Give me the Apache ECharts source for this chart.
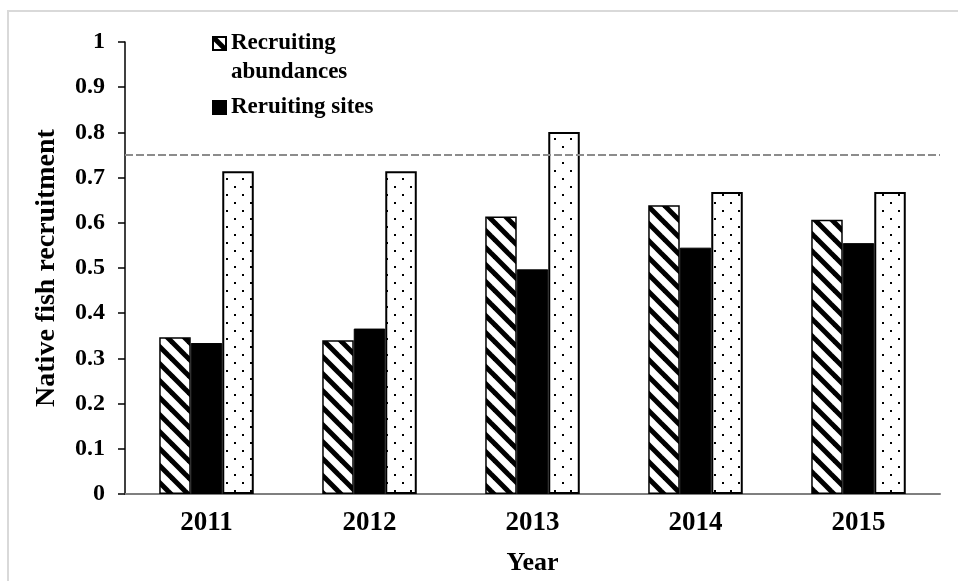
<!DOCTYPE html>
<html>
<head>
<meta charset="utf-8">
<script src="https://cdn.jsdelivr.net/npm/echarts@6/dist/echarts.min.js"></script>
<style>
  html, body { margin: 0; padding: 0; background: #fff; }
  #chart { width: 958px; height: 581px; }
</style>
</head>
<body>
<div id="chart"></div>
<script>
// data
var years = ['2011', '2012', '2013', '2014', '2015'];
var abundances = [0.347, 0.340, 0.614, 0.639, 0.607];
var sites = [0.334, 0.366, 0.497, 0.545, 0.555];
var third = [0.714, 0.714, 0.801, 0.668, 0.668];
var threshold = 0.75;

var FONT = 'Liberation Serif';

// diagonal hatch pattern
function hatchPattern() {
    var s = 17;
    var c = document.createElement('canvas');
    c.width = s; c.height = s;
    var ctx = c.getContext('2d');
    ctx.fillStyle = '#fff';
    ctx.fillRect(0, 0, s, s);
    ctx.strokeStyle = '#000';
    ctx.lineWidth = 5;
    [-s, 0, s].forEach(function (k) {
        ctx.beginPath();
        ctx.moveTo(-2, k - 2);
        ctx.lineTo(s + 2, s + k + 2);
        ctx.stroke();
    });
    return c;
}

// small dots pattern
function dotPattern() {
    var s = 16;
    var c = document.createElement('canvas');
    c.width = s; c.height = s;
    var ctx = c.getContext('2d');
    ctx.fillStyle = '#fff';
    ctx.fillRect(0, 0, s, s);
    ctx.fillStyle = '#000';
    ctx.fillRect(2, 2, 2, 2);
    ctx.fillRect(10, 10, 2, 2);
    return c;
}

var myChart = echarts.init(document.getElementById('chart'));

var legendText = { fontFamily: FONT, fontWeight: 'bold', fontSize: 23, color: '#000', lineHeight: 29 };

var option = {
    animation: false,
    backgroundColor: '#fff',
    textStyle: { fontFamily: FONT },
    graphic: [{
        type: 'rect',
        shape: { x: 8, y: 11, width: 1000, height: 700 },
        style: { fill: 'none', stroke: '#d9d9d9', lineWidth: 2 },
        silent: true
    }],
    legend: [{
        // empty first line keeps the icon level with "Recruiting"
        left: 212,
        top: 0,
        padding: 0,
        itemWidth: 13,
        itemHeight: 13,
        icon: 'rect',
        textStyle: legendText,
        formatter: function () { return ' \nRecruiting\nabundances'; },
        data: ['Recruiting abundances']
    }, {
        left: 212,
        top: 93,
        padding: 0,
        itemWidth: 13,
        itemHeight: 13,
        icon: 'rect',
        textStyle: legendText,
        data: ['Reruiting sites']
    }],
    grid: {
        left: 125,
        right: 18,
        top: 42,
        bottom: 86,
        containLabel: false
    },
    xAxis: {
        type: 'category',
        data: years,
        name: 'Year',
        nameLocation: 'middle',
        nameGap: 56,
        nameTextStyle: { fontFamily: FONT, fontWeight: 'bold', fontSize: 26, color: '#000' },
        axisLine: { lineStyle: { color: '#7f7f7f', width: 2 } },
        axisTick: { show: false },
        axisLabel: { fontFamily: FONT, fontWeight: 'bold', fontSize: 27, color: '#000', margin: 16 },
        splitLine: { show: false }
    },
    yAxis: {
        type: 'value',
        min: 0,
        max: 1,
        interval: 0.1,
        name: 'Native fish recruitment',
        nameLocation: 'middle',
        nameGap: 64,
        nameTextStyle: { fontFamily: FONT, fontWeight: 'bold', fontSize: 28, color: '#000' },
        axisLine: { show: true, lineStyle: { color: '#000', width: 1.5 } },
        axisTick: { show: true, inside: false, length: 7, lineStyle: { color: '#000', width: 1.5 } },
        axisLabel: { fontFamily: FONT, fontWeight: 'bold', fontSize: 24, color: '#000', margin: 20 },
        splitLine: { show: false }
    },
    series: [{
        name: 'Recruiting abundances',
        type: 'bar',
        barGap: '0%',
        barCategoryGap: '42%',
        itemStyle: {
            color: { image: hatchPattern(), repeat: 'repeat' },
            borderColor: '#000',
            borderWidth: 1.5
        },
        data: abundances,
        markLine: {
            silent: true,
            symbol: 'none',
            label: { show: false },
            lineStyle: { color: '#8c8c8c', type: [8, 3], width: 2 },
            data: [{ yAxis: threshold }]
        }
    }, {
        name: 'Reruiting sites',
        type: 'bar',
        itemStyle: { color: '#000', borderColor: '#000', borderWidth: 1 },
        data: sites
    }, {
        name: 'Other',
        type: 'bar',
        itemStyle: {
            color: { image: dotPattern(), repeat: 'repeat' },
            borderColor: '#000',
            borderWidth: 2
        },
        data: third
    }]
};

myChart.setOption(option);
</script>
</body>
</html>
